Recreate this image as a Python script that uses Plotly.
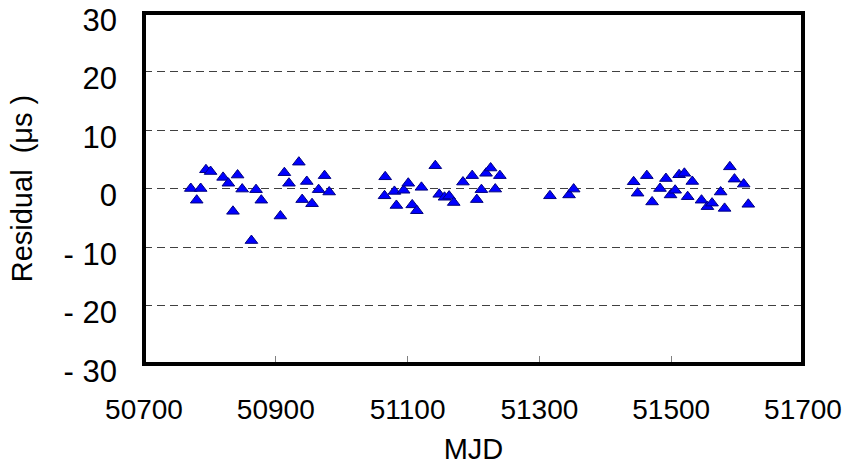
import plotly.graph_objects as go

mjd = [
    50771, 50786, 50780, 50794, 50801, 50820, 50828, 50842, 50849, 50835,
    50870, 50878, 50863, 50907, 50913, 50920, 50935, 50947, 50940, 50955,
    50965, 50974, 50981,
    51066, 51065, 51080, 51083, 51094, 51101, 51107, 51114, 51121, 51142,
    51148, 51156, 51163, 51170, 51184, 51198, 51205, 51212, 51219, 51226,
    51233, 51240,
    51316, 51345, 51352,
    51443, 51449, 51463, 51471, 51483, 51492, 51499, 51506, 51512, 51520,
    51525, 51532, 51546, 51555, 51562, 51575, 51581, 51589, 51596, 51610,
    51617,
]
residual = [
    0.0, 0.0, -2.0, 3.2, 2.9, 1.9, 0.9, 2.3, -0.1, -3.9,
    -0.2, -2.0, -8.9, -4.7, 2.7, 0.9, 4.5, 1.2, -1.9, -2.6,
    -0.2, 2.2, -0.6,
    2.0, -1.25, -0.5, -2.9, -0.3, 0.9, -2.8, -3.8, 0.2, 3.9,
    -1.0, -1.5, -1.3, -2.4, 1.1, 2.2, -1.9, -0.2, 2.6, 3.5,
    -0.1, 2.2,
    -1.25, -1.1, -0.1,
    1.15, -0.8, 2.2, -2.3, 0.0, 1.7, -1.1, -0.3, 2.35, 2.6,
    -1.4, 1.2, -2.0, -3.1, -2.5, -0.6, -3.4, 3.7, 1.6, 0.75,
    -2.7,
]

x_ticks = [50700, 50900, 51100, 51300, 51500, 51700]
y_ticks = [-30, -20, -10, 0, 10, 20, 30]
y_tick_labels = ["- 30", "- 20", "- 10", "0", "10", "20", "30"]

FONT = "Liberation Sans, Arial, sans-serif"

fig = go.Figure()
fig.add_trace(go.Scatter(
    x=mjd, y=residual, mode="markers",
    marker=dict(symbol="triangle-up", size=11, color="#0000ff",
                line=dict(color="#000080", width=1)),
    showlegend=False,
))

fig.update_layout(
    width=851, height=466,
    margin=dict(l=144, r=48, t=13, b=102),
    paper_bgcolor="white", plot_bgcolor="white",
    font=dict(family=FONT, color="black"),
)
# thick black frame around the plot area
fig.add_shape(type="rect", xref="paper", yref="paper", x0=0, x1=1, y0=0, y1=1,
              line=dict(color="black", width=4), layer="above")

fig.update_xaxes(
    range=[50700, 51700], tickvals=x_ticks,
    ticktext=[str(v) for v in x_ticks],
    tickfont=dict(size=28, family=FONT),
    ticks="inside", ticklen=8, tickcolor="#808080", tickwidth=1,
    showgrid=False, zeroline=False, showline=False, automargin=False,
    ticklabelstandoff=26, ticklabeloverflow="allow",
    title=dict(text="MJD", font=dict(size=29, family=FONT), standoff=14),
)
fig.update_yaxes(
    range=[-30, 30], tickvals=y_ticks, ticktext=y_tick_labels,
    tickfont=dict(size=31, family=FONT),
    ticks="", showgrid=True, gridcolor="#404040", gridwidth=1,
    griddash="8px,5px", zeroline=False, showline=False, automargin=False,
    ticklabelstandoff=26, ticklabelshift=7, ticklabeloverflow="allow",
    title=dict(text="Residual\u00a0\u00a0(\u03bcs\u00a0)",
               font=dict(size=29, family=FONT), standoff=22),
)

# remove the browser's default body margin so the figure fills the window
fig.write_html("out.html",
               config={"displayModeBar": False},
               post_script="document.body.style.margin='0';")
